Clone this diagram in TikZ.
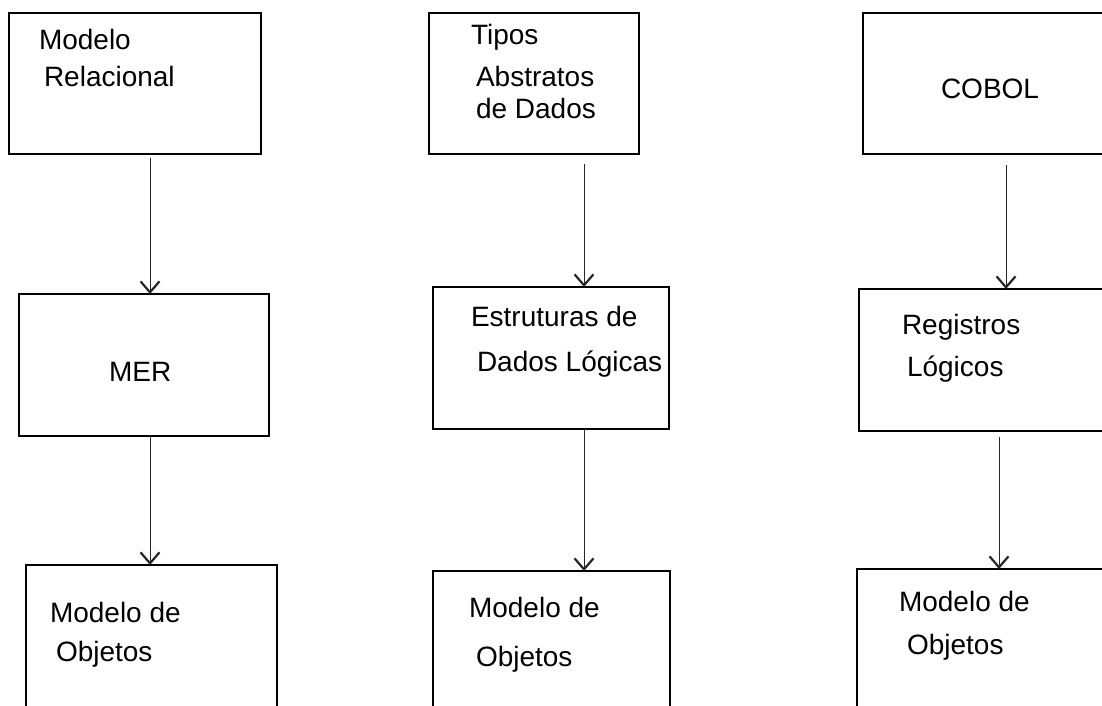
\documentclass[tikz,border=0pt]{standalone}
\usepackage{fontspec}
\setmainfont{Liberation Sans}
\usetikzlibrary{arrows.meta}
\begin{document}
\begin{tikzpicture}[x=1pt,y=-1pt,
  box/.style={draw=black,line width=2pt,inner sep=0pt,outer sep=0pt,fill=none},
  lbl/.style={anchor=base west,inner sep=0pt,outer sep=0pt,font=\fontsize{28}{30}\selectfont},
  arr/.style={draw=black!85,line width=0.9pt,-{Straight Barb[length=11pt,width=19pt,line width=2.2pt]}}]
\useasboundingbox (0,0) rectangle (1102,706);
\clip (0,0) rectangle (1102,706);
\fill[white] (0,0) rectangle (1102,706);
% column 1
\node[box,minimum width=252pt,minimum height=141pt] (b1) at (135,83.5) {};
\node[box,minimum width=250pt,minimum height=142pt] (b2) at (144,365) {};
\node[box,minimum width=251pt,minimum height=165pt] (b3) at (151.5,647.5) {};
% column 2
\node[box,minimum width=210pt,minimum height=141pt] (b4) at (534,83.5) {};
\node[box,minimum width=236pt,minimum height=142pt] (b5) at (551,358) {};
\node[box,minimum width=237pt,minimum height=159pt] (b6) at (551.5,650.5) {};
% column 3
\node[box,minimum width=247pt,minimum height=141pt] (b7) at (986.5,83.5) {};
\node[box,minimum width=251pt,minimum height=142pt] (b8) at (984.5,360) {};
\node[box,minimum width=253pt,minimum height=161pt] (b9) at (983.5,649.5) {};
% labels
\node[lbl] (t1a) at (39,50) {Modelo};
\node[lbl] (t1b) at (44,87) {Relacional};
\node[lbl] (t2) at (109,381) {MER};
\node[lbl] (t3a) at (50,622) {Modelo de};
\node[lbl] (t3b) at (56,661) {Objetos};
\node[lbl] (t4a) at (471,45) {Tipos};
\node[lbl] (t4b) at (476,87) {Abstratos};
\node[lbl] (t4c) at (476,119) {de Dados};
\node[lbl] (t5a) at (471,326) {Estruturas de};
\node[lbl] (t5b) at (477,371) {Dados L\'ogicas};
\node[lbl] (t6a) at (469,617) {Modelo de};
\node[lbl] (t6b) at (476,666) {Objetos};
\node[lbl] (t7) at (941,99) {COBOL};
\node[lbl] (t8a) at (902,334) {Registros};
\node[lbl] (t8b) at (907,376) {L\'ogicos};
\node[lbl] (t9a) at (899,611) {Modelo de};
\node[lbl] (t9b) at (907,654) {Objetos};
% arrow columns
\coordinate (x1) at (150,0);
\coordinate (x2) at (584,0);
\coordinate (x3) at (1006,0);
\coordinate (x4) at (999,0);
\draw[arr,shorten <=4pt] (b1.south -| x1) -- (b2.north -| x1);
\draw[arr] (b2.south -| x1) -- (b3.north -| x1);
\draw[arr,shorten <=10pt] (b4.south -| x2) -- (b5.north -| x2);
\draw[arr] (b5.south -| x2) -- (b6.north -| x2);
\draw[arr,shorten <=11pt] (b7.south -| x3) -- (b8.north -| x3);
\draw[arr,shorten <=6pt] (b8.south -| x4) -- (b9.north -| x4);
\end{tikzpicture}
\end{document}
